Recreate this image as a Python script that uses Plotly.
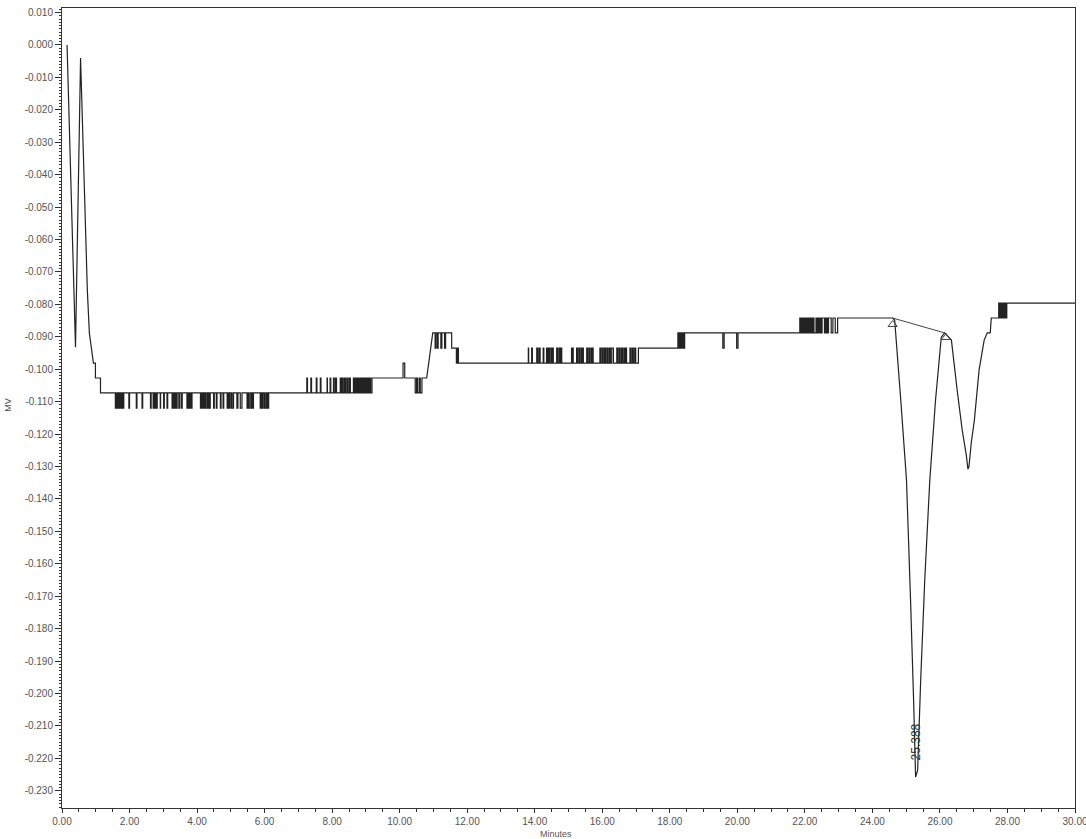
import plotly.graph_objects as go

# ---------------- data ----------------
# leading part (injection disturbance), minutes / mV
lead_t = [0.15, 0.40, 0.55, 0.75, 0.81, 0.93, 0.99, 0.99, 1.14, 1.14, 1.58]
lead_mv = [0.0000, -0.0932, -0.0040, -0.0756, -0.0888, -0.0981, -0.0981, -0.1027, -0.1027, -0.1073, -0.1073]

# quantisation flicker region A: base -0.1073, dips to -0.1120
flickA_levels = [-0.1073, -0.1120]
flickA_t = [1.58, 1.60, 1.62, 1.64, 1.66, 1.68, 1.70, 1.72, 1.74, 1.76, 1.78, 1.80, 1.82, 1.83,
            1.98, 2.00, 2.20, 2.22, 2.37, 2.39,
            2.62, 2.64, 2.70, 2.73, 2.76, 2.78, 2.80, 2.82,
            2.91, 2.92, 3.01, 3.03, 3.11, 3.13,
            3.26, 3.28, 3.30, 3.32, 3.35, 3.37, 3.39, 3.41,
            3.46, 3.48, 3.53, 3.56,
            3.70, 3.72, 3.74, 3.76, 3.79, 3.81, 3.83, 3.85,
            4.10, 4.12, 4.14, 4.16, 4.19, 4.21, 4.24, 4.27, 4.31, 4.34, 4.37, 4.39,
            4.49, 4.51, 4.57, 4.59, 4.69, 4.71, 4.77, 4.79,
            4.89, 4.91, 4.93, 4.96, 5.00, 5.02, 5.04, 5.08,
            5.18, 5.21, 5.28, 5.33,
            5.48, 5.50, 5.52, 5.56, 5.60, 5.62, 5.64, 5.67,
            5.87, 5.89, 5.91, 5.94, 5.98, 6.00, 6.02, 6.06, 6.09, 6.12]

# region B: base -0.1073, up to -0.1027 (ends high)
flickB_levels = [-0.1073, -0.1027]
flickB_t = [7.25, 7.27, 7.37, 7.39, 7.53, 7.55, 7.65, 7.67, 7.85, 7.86,
            7.94, 7.96, 8.04, 8.06, 8.10, 8.13,
            8.24, 8.27, 8.30, 8.33, 8.37, 8.40, 8.44, 8.47, 8.51, 8.54,
            8.63, 8.66, 8.69, 8.72, 8.75, 8.78, 8.81, 8.84, 8.87, 8.90,
            8.93, 8.96, 8.99, 9.02, 9.05, 9.08, 9.11, 9.14, 9.18]

# step section around 10-11 min
mid_t = [10.10, 10.10, 10.15, 10.15, 10.46, 10.46, 10.50, 10.50, 10.53, 10.53,
         10.58, 10.58, 10.61, 10.61, 10.66, 10.66, 10.80, 10.86, 10.92, 10.98, 11.05]
mid_mv = [-0.1027, -0.0981, -0.0981, -0.1027, -0.1027, -0.1073, -0.1073, -0.1027, -0.1027, -0.1073,
          -0.1073, -0.1027, -0.1027, -0.1073, -0.1073, -0.1027, -0.1027, -0.0981, -0.0935, -0.0888, -0.0888]

# region D: top of the small bump
flickD_levels = [-0.0888, -0.0935]
flickD_t = [11.05, 11.08, 11.12, 11.14, 11.22, 11.25, 11.33, 11.36]

bump_t = [11.54, 11.54, 11.68, 11.68, 11.71, 11.71, 11.74, 11.74]
bump_mv = [-0.0888, -0.0935, -0.0935, -0.0981, -0.0981, -0.0935, -0.0935, -0.0981]

# region E: base -0.0981, up to -0.0935 (ends high)
flickE_levels = [-0.0981, -0.0935]
flickE_t = [13.81, 13.82, 13.91, 13.93, 14.06, 14.09, 14.13, 14.16, 14.25, 14.27,
            14.35, 14.38, 14.41, 14.44, 14.48, 14.51, 14.53, 14.55,
            14.65, 14.68, 14.72, 14.74, 14.77, 14.80,
            15.09, 15.11, 15.12, 15.14,
            15.24, 15.27, 15.31, 15.34, 15.38, 15.41, 15.42, 15.44,
            15.54, 15.57, 15.61, 15.64, 15.68, 15.70, 15.71, 15.73,
            15.93, 15.96, 16.00, 16.03, 16.07, 16.10, 16.14, 16.17, 16.21, 16.24, 16.28, 16.33,
            16.43, 16.46, 16.50, 16.53, 16.57, 16.60, 16.64, 16.67, 16.70, 16.72,
            16.82, 16.85, 16.89, 16.92, 16.96, 16.99, 17.07]

# region F: -0.0935 -> -0.0888
flickF_levels = [-0.0935, -0.0888]
flickF_t = [18.24, 18.26, 18.28, 18.30, 18.32, 18.34, 18.36, 18.38, 18.40, 18.42, 18.44]

# region G: two dips from -0.0888
flickG_levels = [-0.0888, -0.0935]
flickG_t = [19.57, 19.61, 19.98, 20.02]

# region H: -0.0888 -> -0.0842 (dense)
flickH_levels = [-0.0888, -0.0842]
flickH_t = [21.85, 21.87, 21.89, 21.91, 21.94, 21.96, 21.98, 22.00, 22.03, 22.05,
            22.07, 22.09, 22.12, 22.14, 22.16, 22.18, 22.21, 22.23, 22.25, 22.27,
            22.33, 22.35, 22.37, 22.39, 22.42, 22.44, 22.46, 22.48, 22.51,
            22.58, 22.60, 22.62, 22.64, 22.67, 22.70, 22.78, 22.83, 22.90, 22.97]

# peaks region
peak_t = [24.60, 24.66, 24.84, 25.01, 25.13, 25.22, 25.28, 25.34, 25.43, 25.55, 25.70,
          25.87, 26.04, 26.14, 26.34, 26.51, 26.66, 26.78, 26.83, 26.86, 26.93, 27.02,
          27.16, 27.31, 27.37, 27.40, 27.49, 27.52, 27.74]
peak_mv = [-0.0842, -0.0849, -0.1095, -0.1342, -0.1712, -0.2020, -0.2258, -0.2236, -0.1958, -0.1650, -0.1342,
           -0.1095, -0.0901, -0.0888, -0.0910, -0.1064, -0.1188, -0.1264, -0.1308, -0.1300, -0.1225, -0.1157,
           -0.1002, -0.0910, -0.0895, -0.0888, -0.0888, -0.0842, -0.0842]

# region I: -0.0842 -> -0.0796
flickI_levels = [-0.0842, -0.0796]
flickI_t = [27.74, 27.76, 27.78, 27.80, 27.82, 27.84, 27.86, 27.88, 27.90, 27.92, 27.94, 27.96, 27.98]

tail_t = [30.0]
tail_mv = [-0.0796]

# integration baseline and peak start/end marks
base_t = [24.60, 26.14]
base_mv = [-0.0842, -0.0888]
mark_t = [24.60, 26.18]
mark_mv = [-0.0862, -0.0902]

peak_label_t = 25.30
peak_label_mv = -0.2150
peak_label = "25.388"

x_tick_vals = [0, 2, 4, 6, 8, 10, 12, 14, 16, 18, 20, 22, 24, 26, 28, 30]
x_tick_text = ["0.00", "2.00", "4.00", "6.00", "8.00", "10.00", "12.00", "14.00",
               "16.00", "18.00", "20.00", "22.00", "24.00", "26.00", "28.00", "30.00"]
y_tick_vals = [0.010, 0.000, -0.010, -0.020, -0.030, -0.040, -0.050, -0.060, -0.070, -0.080,
               -0.090, -0.100, -0.110, -0.120, -0.130, -0.140, -0.150, -0.160, -0.170,
               -0.180, -0.190, -0.200, -0.210, -0.220, -0.230]
y_tick_text = ["0.010", "0.000", "-0.010", "-0.020", "-0.030", "-0.040", "-0.050", "-0.060",
               "-0.070", "-0.080", "-0.090", "-0.100", "-0.110", "-0.120", "-0.130", "-0.140",
               "-0.150", "-0.160", "-0.170", "-0.180", "-0.190", "-0.200", "-0.210", "-0.220", "-0.230"]

# ---------------- assemble trace ----------------
xs, ys = [], []


def add_line(ts, vs):
    xs.extend(ts)
    ys.extend(vs)


def add_flicker(levels, toggles):
    cur = 0
    for t in toggles:
        xs.append(t); ys.append(levels[cur])
        cur = 1 - cur
        xs.append(t); ys.append(levels[cur])


add_line(lead_t, lead_mv)
add_flicker(flickA_levels, flickA_t)
add_flicker(flickB_levels, flickB_t)
add_line(mid_t, mid_mv)
add_flicker(flickD_levels, flickD_t)
add_line(bump_t, bump_mv)
add_flicker(flickE_levels, flickE_t)
add_flicker(flickF_levels, flickF_t)
add_flicker(flickG_levels, flickG_t)
add_flicker(flickH_levels, flickH_t)
add_line(peak_t, peak_mv)
add_flicker(flickI_levels, flickI_t)
add_line(tail_t, tail_mv)

FONT = "Liberation Sans, Arial, sans-serif"
LINE = "#222222"

fig = go.Figure()
fig.add_trace(go.Scatter(x=xs, y=ys, mode="lines",
                         line=dict(color=LINE, width=1.2, simplify=False),
                         hoverinfo="skip", showlegend=False))
fig.add_trace(go.Scatter(x=base_t, y=base_mv, mode="lines",
                         line=dict(color="#444", width=1), showlegend=False))
fig.add_trace(go.Scatter(x=mark_t, y=mark_mv, mode="markers",
                         marker=dict(symbol="triangle-up-open", size=8,
                                     color="#444", line=dict(width=1)),
                         showlegend=False))

fig.add_annotation(x=peak_label_t, y=peak_label_mv, text=peak_label, textangle=-90,
                   showarrow=False, font=dict(family=FONT, size=12, color="#333"))
fig.add_annotation(xref="paper", yref="paper", x=0.4877, y=0, yshift=-26,
                   xanchor="center", yanchor="middle",
                   text="Minutes", showarrow=False,
                   font=dict(family=FONT, size=9, color="#555"))
fig.add_annotation(xref="paper", yref="paper", x=0, y=0.504, xshift=-54,
                   xanchor="center", yanchor="middle",
                   text="MV", textangle=-90, showarrow=False,
                   font=dict(family=FONT, size=9, color="#555"))

fig.update_layout(
    width=1086, height=839,
    margin=dict(l=62, r=11, t=8, b=31, autoexpand=False),
    plot_bgcolor="white", paper_bgcolor="white",
    font=dict(family=FONT, size=10, color="#555"),
    xaxis=dict(range=[0, 30], tickvals=x_tick_vals, ticktext=x_tick_text,
               ticks="outside", ticklen=4, tickcolor="#333", tickwidth=1,
               showline=True, linecolor="#333", linewidth=1, mirror=True,
               showgrid=False, zeroline=False, ticklabeloverflow="allow",
               automargin=False,
               tickfont=dict(family=FONT, size=10, color="#555"),
               minor=dict(tick0=0, dtick=0.5, ticks="outside", ticklen=3, tickcolor="#333")),
    yaxis=dict(range=[-0.2353, 0.0114], tickvals=y_tick_vals, ticktext=y_tick_text,
               ticks="outside", ticklen=6, tickcolor="#333", tickwidth=1,
               showline=True, linecolor="#333", linewidth=1, mirror=True,
               showgrid=False, zeroline=False, ticklabeloverflow="allow",
               automargin=False,
               tickfont=dict(family=FONT, size=10, color="#555"),
               minor=dict(tick0=0, dtick=0.001, ticks="outside", ticklen=2, tickcolor="#333")),
)

fig.write_html("out.html",
               config={"displayModeBar": False},
               post_script="document.body.style.margin='0';document.body.style.padding='0';"
                           "document.documentElement.style.overflow='hidden';")
